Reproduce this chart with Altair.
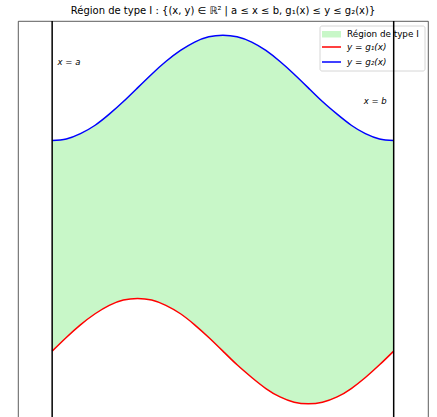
import altair as alt
import pandas as pd

# Sample points of the two bounding curves over [a, b]
x_vals = [0.00, 0.26, 0.52, 0.79, 1.05, 1.31, 1.57, 1.83, 2.09, 2.36, 2.62, 2.88, 3.14,
          3.40, 3.67, 3.93, 4.19, 4.45, 4.71, 4.97, 5.24, 5.50, 5.76, 6.02, 6.28]
g1_vals = [0.00, 0.26, 0.50, 0.71, 0.87, 0.97, 1.00, 0.97, 0.87, 0.71, 0.50, 0.26, 0.00,
           -0.26, -0.50, -0.71, -0.87, -0.97, -1.00, -0.97, -0.87, -0.71, -0.50, -0.26, 0.00]
g2_vals = [4.00, 4.03, 4.13, 4.29, 4.50, 4.74, 5.00, 5.26, 5.50, 5.71, 5.87, 5.97, 6.00,
           5.97, 5.87, 5.71, 5.50, 5.26, 5.00, 4.74, 4.50, 4.29, 4.13, 4.03, 4.00]

# Bounds of the region
bound_names = ["a", "b"]
bound_vals = [0.00, 6.28]

# Annotations for the vertical bounds
annot_text = ["x = a", "x = b"]
annot_x = [0.10, 6.15]
annot_y = [5.50, 4.75]

legend_labels = ["Région de type I", "y = g\u2081(x)", "y = g\u2082(x)"]

FILL = "#c8f7c8"
FONT = "DejaVu Sans"
CURVE = "natural"

curves = pd.DataFrame({"x": x_vals, "g1": g1_vals, "g2": g2_vals})
bounds = pd.DataFrame({"name": bound_names, "x": bound_vals})
annots = pd.DataFrame({"text": annot_text, "x": annot_x, "y": annot_y})

xscale = alt.Scale(domain=[-0.628, 6.911], nice=False, zero=False)
yscale = alt.Scale(domain=[-1.27, 6.27], nice=False, zero=False)

base = alt.Chart(curves)

region = base.mark_area(color=FILL, interpolate=CURVE).encode(
    x=alt.X("x:Q", scale=xscale, axis=None),
    y=alt.Y("g1:Q", scale=yscale, axis=None),
    y2="g2:Q",
)

line_g1 = base.mark_line(color="red", strokeWidth=1.5, interpolate=CURVE).encode(
    x=alt.X("x:Q", scale=xscale, axis=None),
    y=alt.Y("g1:Q", scale=yscale, axis=None),
)

line_g2 = base.mark_line(color="blue", strokeWidth=1.5, interpolate=CURVE).encode(
    x=alt.X("x:Q", scale=xscale, axis=None),
    y=alt.Y("g2:Q", scale=yscale, axis=None),
)

rules = alt.Chart(bounds).mark_rule(color="black", strokeWidth=1.5).encode(
    x=alt.X("x:Q", scale=xscale, axis=None),
)

label_a = alt.Chart(annots.iloc[[0]]).mark_text(
    align="left", baseline="middle", font=FONT, fontSize=8.5, fontStyle="italic", color="black"
).encode(
    x=alt.X("x:Q", scale=xscale, axis=None),
    y=alt.Y("y:Q", scale=yscale, axis=None),
    text="text:N",
)

label_b = alt.Chart(annots.iloc[[1]]).mark_text(
    align="right", baseline="middle", font=FONT, fontSize=8.5, fontStyle="italic", color="black"
).encode(
    x=alt.X("x:Q", scale=xscale, axis=None),
    y=alt.Y("y:Q", scale=yscale, axis=None),
    text="text:N",
)

# Legend box (upper right)
leg_df = pd.DataFrame({"label": legend_labels})
leg_box = alt.Chart(leg_df.iloc[[0]]).mark_rect(
    fill="white", fillOpacity=0.8, stroke="#cccccc", strokeWidth=0.8, cornerRadius=2
).encode(
    x=alt.value(302), x2=alt.value(407), y=alt.value(5), y2=alt.value(50)
)
leg_patch = alt.Chart(leg_df.iloc[[0]]).mark_rect(fill=FILL).encode(
    x=alt.value(304), x2=alt.value(323), y=alt.value(10), y2=alt.value(16.5)
)
leg_red = alt.Chart(leg_df.iloc[[1]]).mark_rule(color="red", strokeWidth=1.5).encode(
    x=alt.value(304), x2=alt.value(323), y=alt.value(26)
)
leg_blue = alt.Chart(leg_df.iloc[[2]]).mark_rule(color="blue", strokeWidth=1.5).encode(
    x=alt.value(304), x2=alt.value(323), y=alt.value(41)
)
leg_t0 = alt.Chart(leg_df.iloc[[0]]).mark_text(
    align="left", baseline="middle", font=FONT, fontSize=8.8, color="black"
).encode(x=alt.value(329), y=alt.value(13), text="label:N")
leg_t1 = alt.Chart(leg_df.iloc[[1]]).mark_text(
    align="left", baseline="middle", font=FONT, fontSize=8.8, fontStyle="italic", color="black"
).encode(x=alt.value(329), y=alt.value(26), text="label:N")
leg_t2 = alt.Chart(leg_df.iloc[[2]]).mark_text(
    align="left", baseline="middle", font=FONT, fontSize=8.8, fontStyle="italic", color="black"
).encode(x=alt.value(329), y=alt.value(41), text="label:N")

chart = alt.layer(
    region, line_g1, line_g2,
    leg_box, leg_patch, leg_red, leg_blue, leg_t0, leg_t1, leg_t2,
    rules, label_a, label_b,
).properties(
    width=410,
    height=397,
    autosize=alt.AutoSizeParams(type="none"),
    padding={"left": 18, "top": 21, "right": 9, "bottom": 0},
    title=alt.TitleParams(
        text="Région de type I : {(x, y) \u2208 \u211d\u00b2 | a \u2264 x \u2264 b, g\u2081(x) \u2264 y \u2264 g\u2082(x)}",
        font=FONT, fontSize=10, fontWeight="normal", color="black",
        anchor="middle", offset=4,
    ),
).configure_view(stroke="#333333", strokeWidth=0.8)

chart.save("out.html", embed_options={"renderer": "svg", "actions": False})
